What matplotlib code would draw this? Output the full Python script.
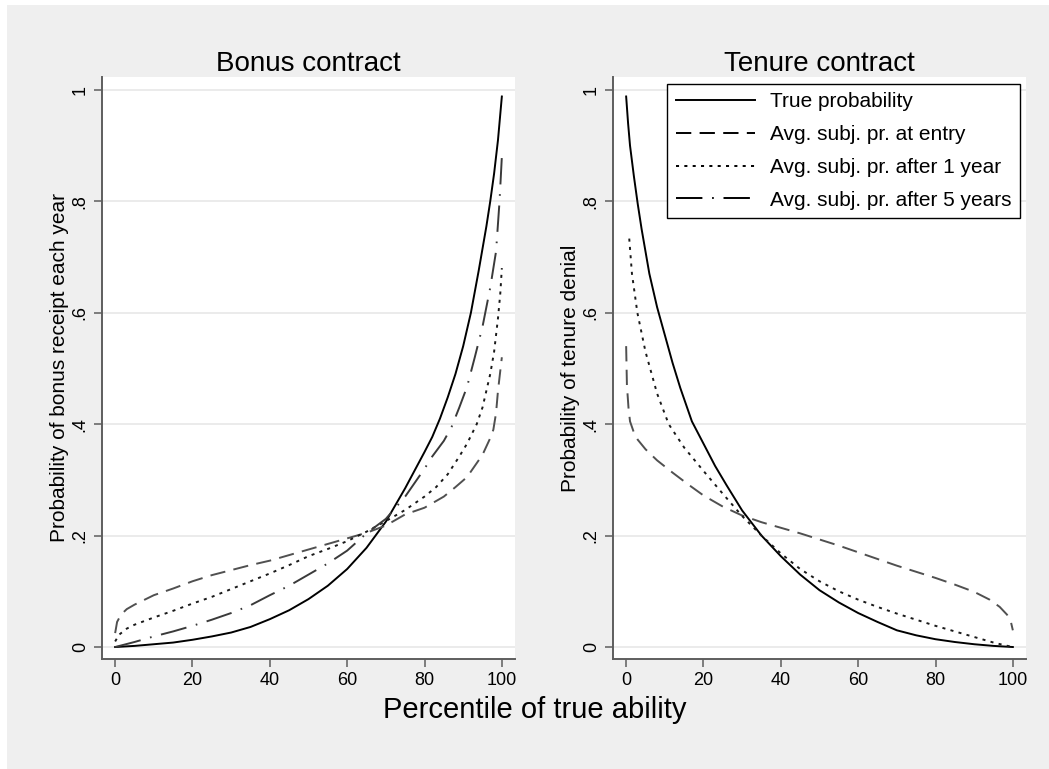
import numpy as np
import matplotlib.pyplot as plt
from matplotlib.patches import Rectangle

plt.rcParams['font.family'] = ['Liberation Sans', 'DejaVu Sans']
plt.rcParams['lines.scale_dashes'] = False

# Bonus contract
bonus_true_x = [0, 5, 10, 15, 20, 25, 30, 35, 40, 45, 50, 55, 60, 65, 70, 75, 80, 82, 84, 86, 88, 90, 92, 94, 96, 97, 98, 99, 100]
bonus_true_y = [0, 0.002, 0.005, 0.008, 0.013, 0.019, 0.026, 0.036, 0.05, 0.066, 0.086, 0.11, 0.14, 0.178, 0.225, 0.285,
                0.35, 0.377, 0.41, 0.448, 0.49, 0.54, 0.6, 0.675, 0.755, 0.80, 0.85, 0.91, 0.988]

bonus_entry_x = [0, 0.5, 1.5, 3, 5, 10, 15, 20, 25, 30, 35, 40, 45, 50, 55, 60, 65, 70, 75, 80, 82, 85, 88, 91, 93, 95,
                 97, 97.8, 98.5, 99, 99.5, 100]
bonus_entry_y = [0.025, 0.045, 0.058, 0.068, 0.076, 0.093, 0.105, 0.118, 0.129, 0.138, 0.147, 0.155, 0.165, 0.175, 0.185,
                 0.195, 0.205, 0.218, 0.238, 0.25, 0.258, 0.27, 0.287, 0.305, 0.325, 0.345, 0.375, 0.39, 0.42, 0.46,
                 0.49, 0.52]

bonus_1yr_x = [0, 1, 3, 5, 10, 15, 20, 25, 30, 35, 40, 45, 50, 55, 60, 65, 70, 75, 80, 83, 86, 89, 91, 93.5, 95, 96, 97,
               98, 99, 99.6, 100]
bonus_1yr_y = [0.01, 0.022, 0.033, 0.04, 0.053, 0.065, 0.078, 0.09, 0.104, 0.118, 0.132, 0.147, 0.163, 0.176, 0.19,
               0.207, 0.226, 0.246, 0.27, 0.287, 0.31, 0.342, 0.365, 0.40, 0.43, 0.46, 0.49, 0.53, 0.59, 0.635, 0.68]

bonus_5yr_x = [0, 5, 10, 15, 20, 25, 30, 35, 40, 45, 50, 55, 60, 65, 70, 75, 78, 80, 82, 85, 87, 89, 91, 93, 95, 97,
               98.5, 99.4, 100]
bonus_5yr_y = [0, 0.009, 0.019, 0.028, 0.038, 0.049, 0.061, 0.075, 0.093, 0.11, 0.13, 0.15, 0.173, 0.204, 0.23, 0.27,
               0.30, 0.32, 0.342, 0.37, 0.395, 0.43, 0.467, 0.52, 0.575, 0.645, 0.71, 0.8, 0.88]

# Tenure contract
tenure_true_x = [0, 0.5, 1, 2, 3, 4, 6, 8, 10, 12, 14, 17, 20, 23, 26, 30, 35, 40, 45, 50, 55, 60, 65, 70, 75, 80, 85,
                 90, 95, 100]
tenure_true_y = [0.988, 0.94, 0.9, 0.845, 0.795, 0.75, 0.67, 0.61, 0.56, 0.51, 0.465, 0.405, 0.365, 0.325, 0.29, 0.245,
                 0.2, 0.163, 0.13, 0.102, 0.08, 0.061, 0.045, 0.03, 0.021, 0.014, 0.009, 0.005, 0.002, 0]

tenure_entry_x = [0, 0.2, 0.6, 1, 2, 3, 5, 8, 12, 16, 20, 25, 30, 35, 40, 45, 50, 55, 60, 65, 70, 75, 80, 85, 90, 94,
                  96.6, 98.5, 99.5, 100]
tenure_entry_y = [0.54, 0.47, 0.43, 0.405, 0.385, 0.372, 0.355, 0.335, 0.313, 0.292, 0.272, 0.252, 0.236, 0.224, 0.214,
                  0.204, 0.193, 0.182, 0.17, 0.158, 0.146, 0.135, 0.124, 0.112, 0.099, 0.085, 0.072, 0.058, 0.045, 0.03]

tenure_1yr_x = [0.8, 1.5, 2.9, 5, 8, 11, 15, 20, 25, 30, 35, 40, 45, 50, 55, 60, 65, 70, 75, 80, 85, 90, 95, 98, 100]
tenure_1yr_y = [0.733, 0.67, 0.6, 0.53, 0.455, 0.4, 0.358, 0.316, 0.275, 0.235, 0.2, 0.168, 0.14, 0.118, 0.1, 0.085,
                0.072, 0.06, 0.049, 0.038, 0.028, 0.018, 0.008, 0.003, 0.0]

y_ticks = [0, 0.2, 0.4, 0.6, 0.8, 1]
y_tick_labels = ['0', '.2', '.4', '.6', '.8', '1']
x_ticks = [0, 20, 40, 60, 80, 100]

styles = {
    'true': dict(color='black', lw=1.4, ls='-'),
    'entry': dict(color='#505050', lw=1.4, dashes=(11, 6)),
    '1yr': dict(color='#1a1a1a', lw=1.4, dashes=(2.2, 3.8)),
    '5yr': dict(color='#3a3a3a', lw=1.4, dashes=(19, 7, 1.2, 7)),
}

fig = plt.figure(figsize=(10.49, 7.69), dpi=100, facecolor='white')
fig.patches.append(Rectangle((7 / 1049, 0), 1, 764 / 769, transform=fig.transFigure,
                             facecolor='#efefef', edgecolor='none', zorder=-10))

ax1 = fig.add_axes([102 / 1049, 110 / 769, 413 / 1049, 582 / 769])
ax2 = fig.add_axes([613 / 1049, 110 / 769, 413 / 1049, 582 / 769])


def style_axis(ax, title, ylabel):
    ax.set_facecolor('white')
    ax.set_xlim(-3.4, 103.4)
    ax.set_ylim(-0.0215, 1.023)
    ax.set_yticks(y_ticks)
    ax.set_yticklabels(y_tick_labels, rotation=90, va='center')
    ax.set_xticks(x_ticks)
    for s in ['top', 'right']:
        ax.spines[s].set_visible(False)
    for s in ['left', 'bottom']:
        ax.spines[s].set_color('#5e5e5e')
        ax.spines[s].set_linewidth(1.4)
    ax.tick_params(axis='both', colors='#5e5e5e', labelcolor='black', labelsize=13, length=6, width=1.1)
    ax.grid(axis='y', color='#e8e8e8', lw=1.2)
    ax.set_axisbelow(True)
    ax.set_title(title, fontsize=20, pad=4)
    ax.set_ylabel(ylabel, fontsize=15, labelpad=2)


ax1.plot(bonus_true_x, bonus_true_y, **styles['true'])
ax1.plot(bonus_entry_x, bonus_entry_y, **styles['entry'])
ax1.plot(bonus_1yr_x, bonus_1yr_y, **styles['1yr'])
ax1.plot(bonus_5yr_x, bonus_5yr_y, **styles['5yr'])
style_axis(ax1, 'Bonus contract', 'Probability of bonus receipt each year')

ax2.plot(tenure_true_x, tenure_true_y, label='True probability', **styles['true'])
ax2.plot(tenure_entry_x, tenure_entry_y, label='Avg. subj. pr. at entry', **styles['entry'])
ax2.plot(tenure_1yr_x, tenure_1yr_y, label='Avg. subj. pr. after 1 year', **styles['1yr'])
# the 5-year line is not drawn in this panel, only listed in the legend
ax2.plot([], [], label='Avg. subj. pr. after 5 years', **styles['5yr'])
style_axis(ax2, 'Tenure contract', 'Probability of tenure denial')

leg = ax2.legend(loc='upper right', bbox_to_anchor=(0.986, 0.988), fontsize=15, frameon=True,
                 fancybox=False, edgecolor='black', framealpha=1, handlelength=3.8,
                 borderpad=0.4, labelspacing=0.66, handletextpad=0.75, borderaxespad=0)
leg.get_frame().set_linewidth(1.0)
for line in leg.get_lines():
    line.set_color('black')

fig.text(535 / 1049, 1 - 710 / 769, 'Percentile of true ability', fontsize=21, ha='center', va='center')

fig.savefig('out.png', dpi=100, facecolor=fig.get_facecolor())
